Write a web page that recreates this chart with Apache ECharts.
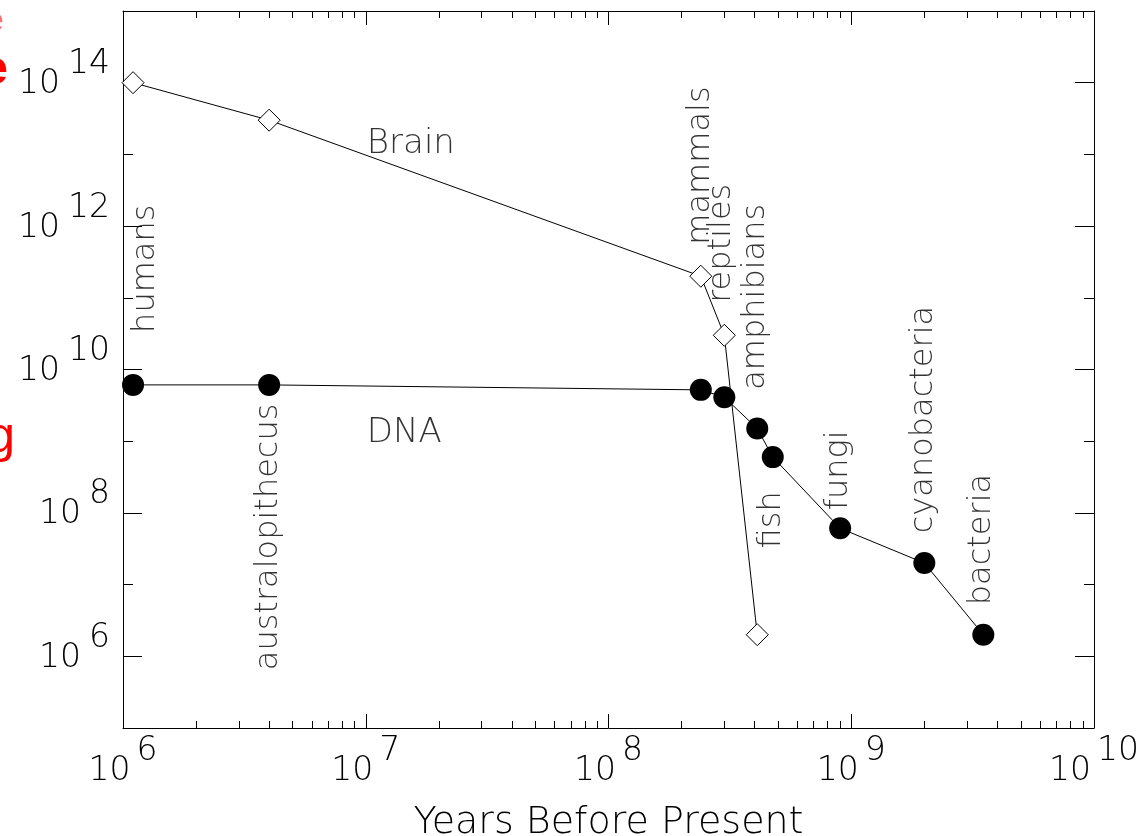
<!DOCTYPE html>
<html>
<head>
<meta charset="utf-8">
<script src="https://cdn.jsdelivr.net/npm/echarts@6/dist/echarts.min.js"></script>
<style>html,body{margin:0;padding:0;background:#fff;}#c{width:1143px;height:836px;}</style>
</head>
<body>
<div id="c"></div>
<script>
// ---- data ----
const brainYears = [1.1e6, 4e6, 2.4e8, 3e8, 4.1e8];
const brainValues = [1e14, 3e13, 2e11, 3e10, 2e6];
const dnaYears = [1.1e6, 4e6, 2.4e8, 3e8, 4.1e8, 4.75e8, 9e8, 2e9, 3.5e9];
const dnaValues = [6.1e9, 6.1e9, 5.2e9, 4.1e9, 1.5e9, 6e8, 6.1e7, 2e7, 2e6];
const speciesNames = ['humans', 'australopithecus', 'mammals', 'reptiles', 'amphibians', 'fish', 'fungi', 'cyanobacteria', 'bacteria'];
const speciesLabelX = [1.24e6, 3.99e6, 2.40e8, 2.93e8, 4.05e8, 4.72e8, 8.9e8, 1.99e9, 3.46e9];
const speciesLabelY = [3.24e10, 6.4e5, 5.5e11, 8.5e10, 5.2e9, 3.2e7, 1.09e8, 5.2e7, 5.15e6];
const seriesNames = ['Brain', 'DNA'];
const seriesLabelX = [1.01e7, 1.01e7];
const seriesLabelY = [1.4e13, 1.3e9];
const xMajorTicks = [1e6, 1e7, 1e8, 1e9, 1e10];
const xMinorTicks = [];
[1e6, 1e7, 1e8, 1e9].forEach(d => { for (let k = 2; k <= 9; k++) xMinorTicks.push(k * d); });
const yLongTicks = [1e6, 1e8, 1e10, 1e12, 1e14];
const yShortTicks = [1e5, 1e7, 1e9, 1e11, 1e13, 1e15];
const xTitle = 'Years Before Present';

// ---- chart ----
const FONT = 'DejaVu Sans';
const W = 200;
const chart = echarts.init(document.getElementById('c'), null, {renderer: 'canvas'});
const expFmt = v => '{b|10}{s|' + Math.round(Math.log10(v)) + '}';
const richX = {
  b: {fontSize: 33, fontFamily: FONT, fontWeight: W, color: '#000', padding: [20, 0, 0, 0]},
  s: {fontSize: 33, fontFamily: FONT, fontWeight: W, color: '#000', padding: [0, 0, 20, 6]}
};
const richY = {
  b: {fontSize: 33, fontFamily: FONT, fontWeight: W, color: '#000', padding: [20, 0, 16, 0]},
  s: {fontSize: 33, fontFamily: FONT, fontWeight: W, color: '#000', padding: [0, 0, 36, 8]}
};
const lineBlack = {show: true, onZero: false, lineStyle: {color: '#000', width: 1}};
function xAx(pos, ticks, len, withLabels) {
  return {
    type: 'log', logBase: 10, min: 1e6, max: 1e10, position: pos, gridIndex: 0,
    axisLine: withLabels !== null ? lineBlack : {show: false},
    axisTick: {show: true, inside: true, length: len, customValues: ticks, lineStyle: {color: '#000', width: 1}},
    axisLabel: withLabels ? {show: true, customValues: xMajorTicks, formatter: expFmt, rich: richX, margin: 7} : {show: false},
    splitLine: {show: false}, minorTick: {show: false}
  };
}
function yAx(pos, ticks, len, withLabels) {
  return {
    type: 'log', logBase: 10, min: 1e5, max: 1e15, position: pos, gridIndex: 0,
    axisLine: withLabels !== null ? lineBlack : {show: false},
    axisTick: {show: true, inside: true, length: len, customValues: ticks, lineStyle: {color: '#000', width: 1}},
    axisLabel: withLabels ? {show: true, customValues: yLongTicks, formatter: expFmt, rich: richY, margin: 13} : {show: false},
    splitLine: {show: false}, minorTick: {show: false}
  };
}
const xAxes = [xAx('bottom', xMajorTicks, 14, true), xAx('bottom', xMinorTicks, 7, null), xAx('top', xMajorTicks, 14, false), xAx('top', xMinorTicks, 7, null)];
xAxes[0].name = xTitle;
xAxes[0].nameLocation = 'middle';
xAxes[0].nameGap = 76;
xAxes[0].nameTextStyle = {fontSize: 38, fontFamily: FONT, fontWeight: W, color: '#000'};
const yAxes = [yAx('left', yLongTicks, 19, true), yAx('left', yShortTicks, 10, null), yAx('right', yLongTicks, 19, false), yAx('right', yShortTicks, 10, null)];

const labelText = {fontFamily: FONT, fontWeight: W, color: '#000'};
chart.setOption({
  animation: false,
  backgroundColor: '#fff',
  grid: {left: 123, right: 49, top: 11, bottom: 108, containLabel: false, outerBoundsMode: 'none'},
  xAxis: xAxes,
  yAxis: yAxes,
  graphic: [
    {type: 'text', x: 4, y: 22, style: {text: 'Scale', fill: '#ff7070', font: '34px "Liberation Sans"', textAlign: 'right', textVerticalAlign: 'middle'}},
    {type: 'text', x: 8, y: 71, style: {text: 'Knowledge', fill: '#ff0000', font: 'bold 48px "Liberation Sans"', textAlign: 'right', textVerticalAlign: 'middle'}},
    {type: 'text', x: 15, y: 438, style: {text: 'Processing', fill: '#ff0000', font: '50px "Liberation Sans"', textAlign: 'right', textVerticalAlign: 'middle'}}
  ],
  series: [
    {
      name: 'Brain', type: 'line', clip: false,
      data: brainYears.map((x, i) => [x, brainValues[i]]),
      symbol: 'diamond', symbolSize: 22, showSymbol: true,
      lineStyle: {color: '#000', width: 1},
      itemStyle: {color: '#fff', borderColor: '#000', borderWidth: 1},
      z: 3
    },
    {
      name: 'DNA', type: 'line', clip: false,
      data: dnaYears.map((x, i) => [x, dnaValues[i]]),
      symbol: 'circle', symbolSize: 22, showSymbol: true,
      lineStyle: {color: '#000', width: 1},
      itemStyle: {color: '#000'},
      z: 3
    },
    {
      type: 'scatter', symbolSize: 0, silent: true, clip: false,
      data: speciesNames.map((n, i) => ({name: n, value: [speciesLabelX[i], speciesLabelY[i]]})),
      label: Object.assign({show: true, formatter: p => p.name, position: [0, 0], rotate: 90, align: 'left', verticalAlign: 'middle', fontSize: 32}, labelText),
      z: 4
    },
    {
      type: 'scatter', symbolSize: 0, silent: true, clip: false,
      data: seriesNames.map((n, i) => ({name: n, value: [seriesLabelX[i], seriesLabelY[i]]})),
      label: Object.assign({show: true, formatter: p => p.name, position: [0, 0], align: 'left', verticalAlign: 'middle', fontSize: 34}, labelText),
      z: 4
    }
  ]
});
</script>
</body>
</html>
